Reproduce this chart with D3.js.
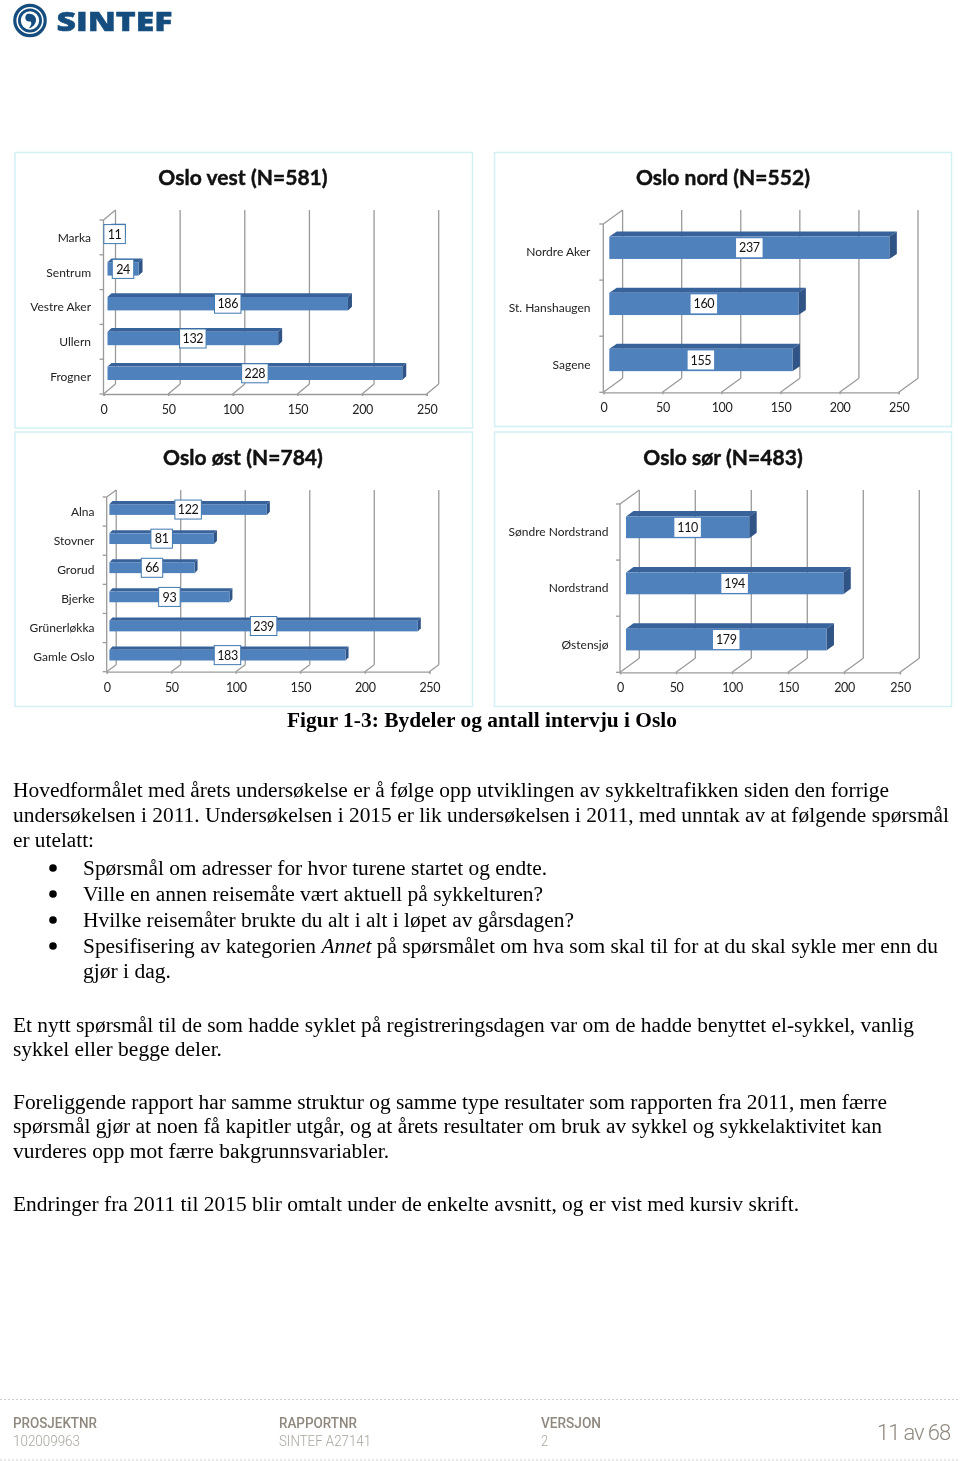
<!DOCTYPE html>
<html>
<head>
<meta charset="utf-8">
<script src="https://d3js.org/d3.v7.min.js"></script>
<style>
    html, body { margin: 0; padding: 0; background: #fff; }
    svg { display: block; }
    .soft { filter: blur(0.4px); }
</style>
</head>
<body>
<script>
const WIDTH = 960, HEIGHT = 1461;

// Values, top to bottom as in each chart
const vestCategories = ["Marka", "Sentrum", "Vestre Aker", "Ullern", "Frogner"];
const vestValues = [11, 24, 186, 132, 228];
const nordCategories = ["Nordre Aker", "St. Hanshaugen", "Sagene"];
const nordValues = [237, 160, 155];
const ostCategories = ["Alna", "Stovner", "Grorud", "Bjerke", "Grünerløkka", "Gamle Oslo"];
const ostValues = [122, 81, 66, 93, 239, 183];
const sorCategories = ["Søndre Nordstrand", "Nordstrand", "Østensjø"];
const sorValues = [110, 194, 179];
const xTicks = [0, 50, 100, 150, 200, 250];

// Placement of the four charts on the page
const panels = [
    { title: "Oslo vest (N=581)", categories: vestCategories, values: vestValues,
      box: [15, 152.5, 472.5, 428], titleX: 243, titleY: 185, x0: 103.5, x250: 426.7, floor: 394, top: 210,
      wallX: 12, wallY: 10, barX: 4, barY: -3.3, barH: 13.4, depthX: 4, depthY: 3.7, framed: true, labelX: 91 },
    { title: "Oslo nord (N=552)", categories: nordCategories, values: nordValues,
      box: [494.5, 152.5, 951.5, 426.5], titleX: 723, titleY: 185, x0: 603.3, x250: 898.7, floor: 392.3, top: 210,
      wallX: 19.3, wallY: 14, barX: 6, barY: -4.3, barH: 22.4, depthX: 7.5, depthY: 5, framed: false, labelX: 590.5 },
    { title: "Oslo øst (N=784)", categories: ostCategories, values: ostValues,
      box: [15, 432, 472.5, 706.5], titleX: 243, titleY: 465, x0: 106.7, x250: 429.3, floor: 671.7, top: 490,
      wallX: 9.5, wallY: 7, barX: 2.7, barY: -2, barH: 10.7, depthX: 3, depthY: 3.2, framed: true, labelX: 94.5 },
    { title: "Oslo sør (N=483)", categories: sorCategories, values: sorValues,
      box: [494.5, 432, 951.5, 706.5], titleX: 723, titleY: 465, x0: 620, x250: 900, floor: 672.3, top: 490,
      wallX: 19.3, wallY: 14, barX: 6, barY: -4.7, barH: 21.7, depthX: 7.5, depthY: 5.5, framed: false, labelX: 608.5 }
];

// Page text: [text, x, right edge, baseline]
const captionLine = ["Figur 1-3: Bydeler og antall intervju i Oslo", 287, 677, 727];
const bodyLines = [
    ["Hovedformålet med årets undersøkelse er å følge opp utviklingen av sykkeltrafikken siden den forrige", 13, 889, 797],
    ["undersøkelsen i 2011. Undersøkelsen i 2015 er lik undersøkelsen i 2011, med unntak av at følgende spørsmål", 13, 949, 822],
    ["er utelatt:", 13, 94, 847],
    ["Spørsmål om adresser for hvor turene startet og endte.", 83, 547, 875],
    ["Ville en annen reisemåte vært aktuell på sykkelturen?", 83, 543, 901],
    ["Hvilke reisemåter brukte du alt i alt i løpet av gårsdagen?", 83, 574, 927],
    ["gjør i dag.", 83, 171, 978],
    ["Et nytt spørsmål til de som hadde syklet på registreringsdagen var om de hadde benyttet el-sykkel, vanlig", 13, 914, 1032],
    ["sykkel eller begge deler.", 13, 222, 1056],
    ["Foreliggende rapport har samme struktur og samme type resultater som rapporten fra 2011, men færre", 13, 887, 1109],
    ["spørsmål gjør at noen få kapitler utgår, og at årets resultater om bruk av sykkel og sykkelaktivitet kan", 13, 882, 1133],
    ["vurderes opp mot færre bakgrunnsvariabler.", 13, 389, 1158],
    ["Endringer fra 2011 til 2015 blir omtalt under de enkelte avsnitt, og er vist med kursiv skrift.", 13, 799, 1211]
];
const bulletRows = [868, 894, 920, 946];

// Footer text: [label, value, x, right edge of label, right edge of value]
const footerColumns = [
    ["PROSJEKTNR", "102009963", 13, 97, 80],
    ["RAPPORTNR", "SINTEF A27141", 279, 357, 371],
    ["VERSJON", "2", 541, 601, 548]
];

const svg = d3.select("body").append("svg")
    .attr("width", WIDTH)
    .attr("height", HEIGHT);

/*
    Function that draws one text line stretched between two x positions, so the
    line ends fall where they do in the page
*/
function fittedText(parent, text, x, right, y, size, family, weight, fill) {
    return parent.append("text")
        .attr("x", x)
        .attr("y", y)
        .attr("font-family", family)
        .attr("font-size", size)
        .attr("font-weight", weight)
        .attr("fill", fill)
        .attr("textLength", right - x)
        .attr("lengthAdjust", "spacingAndGlyphs")
        .text(text);
}

/*
    Function that draws the logo: two broken rings with a swirl inside, and the
    name at the right
*/
function drawLogo() {
    const BLUE = "#154e7e";
    const g = svg.append("g").attr("class", "soft");
    g.append("circle").attr("cx", 30).attr("cy", 20.5).attr("r", 15.2)
        .attr("fill", "none").attr("stroke", BLUE).attr("stroke-width", 3.2);
    g.append("circle").attr("cx", 30).attr("cy", 20.5).attr("r", 10.6)
        .attr("fill", "none").attr("stroke", BLUE).attr("stroke-width", 2.8);
    g.append("path")
        .attr("d", "M27 14 C32 12.5 36.5 16 36 20.5 C35.5 24.5 32.5 27.5 28.5 28.5 C31.5 25.5 32 23 30.5 21.5 C27.5 22 25 20 25.3 17.5 C25.5 16 26 15 27 14 Z")
        .attr("fill", BLUE);
    fittedText(g, "SINTEF", 56.5, 172.5, 30.5, 26, "'Open Sans', sans-serif", 800, BLUE)
        .attr("stroke", BLUE).attr("stroke-width", 0.5);
}

/*
    Function that draws one chart: frame, title, walls and floor of the 3D box,
    then the bars with their value labels
*/
function drawPanel(p) {
    const g = svg.append("g").attr("class", "soft");
    const GRID = "#9a9a9a";

    g.append("rect")
        .attr("x", p.box[0]).attr("y", p.box[1])
        .attr("width", p.box[2] - p.box[0]).attr("height", p.box[3] - p.box[1])
        .attr("fill", "#fff").attr("stroke", "#d3f0f5").attr("stroke-width", 1.5);

    g.append("text")
        .attr("x", p.titleX).attr("y", p.titleY)
        .attr("text-anchor", "middle")
        .attr("font-family", "Lato, sans-serif")
        .attr("font-weight", 700)
        .attr("font-size", 21)
        .attr("letter-spacing", 0.05)
        .attr("fill", "#111")
        .attr("stroke", "#111")
        .attr("stroke-width", 0.45)
        .text(p.title);

    const x = d3.scaleLinear().domain([0, 250]).range([p.x0, p.x250]);
    const y = d3.scaleBand().domain(p.categories).range([p.top + p.wallY, p.floor]);
    const lineStyle = sel => sel.attr("stroke", GRID).attr("stroke-width", 1.3);

    // Back wall lines and floor diagonals
    g.selectAll(".back").data(xTicks).enter().append("line")
        .attr("x1", d => x(d) + p.wallX).attr("x2", d => x(d) + p.wallX)
        .attr("y1", p.top).attr("y2", p.floor - p.wallY)
        .call(lineStyle);
    g.selectAll(".diag").data(xTicks).enter().append("line")
        .attr("x1", d => x(d)).attr("x2", d => x(d) + p.wallX)
        .attr("y1", p.floor).attr("y2", p.floor - p.wallY)
        .call(lineStyle);

    // Left wall
    g.append("line")
        .attr("x1", p.x0).attr("x2", p.x0 + p.wallX)
        .attr("y1", p.top + p.wallY).attr("y2", p.top)
        .call(lineStyle);
    const edges = p.categories.map(d => y(d)).concat([p.floor]);
    g.selectAll(".edge").data(edges).enter().append("line")
        .attr("x1", p.x0 - 4).attr("x2", p.x0)
        .attr("y1", d => d).attr("y2", d => d)
        .call(lineStyle);
    g.append("line")
        .attr("x1", p.x0).attr("x2", p.x0)
        .attr("y1", p.top + p.wallY).attr("y2", p.floor)
        .call(lineStyle);

    // Bottom axis: the tick labels come from d3, the front line stays grey
    const axis = g.append("g")
        .attr("transform", `translate(0,${p.floor})`)
        .call(d3.axisBottom(x).tickValues(xTicks).tickSize(2).tickPadding(9));
    axis.selectAll("path, line").attr("stroke", GRID).attr("stroke-width", 1.3);
    axis.selectAll("text")
        .attr("font-family", "Lato, sans-serif")
        .attr("font-size", 12.5)
        .attr("letter-spacing", -0.4)
        .attr("fill", "#222");

    // Category labels
    g.selectAll(".cat").data(p.categories).enter().append("text")
        .attr("x", p.labelX)
        .attr("y", d => y(d) + y.bandwidth() / 2 + 4.3)
        .attr("text-anchor", "end")
        .attr("font-family", "Lato, sans-serif")
        .attr("font-size", 12)
        .attr("fill", "#222")
        .text(d => d);

    // Bars
    const rows = p.categories.map((c, i) => {
        const top = y(c) + y.bandwidth() / 2 + p.barY - p.barH / 2;
        return { value: p.values[i], left: p.x0 + p.barX, right: x(p.values[i]) + p.barX, top: top, bottom: top + p.barH };
    });
    const bars = g.selectAll(".bar").data(rows).enter().append("g");
    bars.append("polygon")
        .attr("fill", "#38629a")
        .attr("points", d => [[d.left, d.top], [d.right, d.top], [d.right + p.depthX, d.top - p.depthY], [d.left + p.depthX, d.top - p.depthY]].join(" "));
    bars.append("polygon")
        .attr("fill", "#2f5485")
        .attr("points", d => [[d.right, d.top], [d.right + p.depthX, d.top - p.depthY], [d.right + p.depthX, d.bottom - p.depthY], [d.right, d.bottom]].join(" "));
    bars.append("rect")
        .attr("x", d => d.left).attr("y", d => d.top)
        .attr("width", d => d.right - d.left).attr("height", p.barH)
        .attr("fill", "#4f81bd");

    // Value labels in white boxes, centred on the bar face
    const boxW = d => d.value < 100 ? 21.5 : 26.5;
    const boxY = d => (d.top + d.bottom) / 2;
    bars.append("rect")
        .attr("x", d => (d.left + d.right) / 2 - boxW(d) / 2)
        .attr("y", d => boxY(d) - 9.5)
        .attr("width", boxW).attr("height", 19)
        .attr("fill", "#fff")
        .attr("stroke", p.framed ? "#3f78ae" : "none")
        .attr("stroke-width", 1);
    bars.append("text")
        .attr("x", d => (d.left + d.right) / 2)
        .attr("y", d => boxY(d) + 4.6)
        .attr("text-anchor", "middle")
        .attr("font-family", "Lato, sans-serif")
        .attr("font-size", 12.5)
        .attr("letter-spacing", -0.4)
        .attr("fill", "#111")
        .text(d => d.value);
}

/*
    Function that draws the caption and the running text below the charts
*/
function drawText() {
    const SERIF = "'Liberation Serif', serif";
    const g = svg.append("g").attr("class", "soft");
    fittedText(g, captionLine[0], captionLine[1], captionLine[2], captionLine[3], 20.5, SERIF, 700, "#000");
    bodyLines.forEach(l => fittedText(g, l[0], l[1], l[2], l[3], 20.5, SERIF, 400, "#000"));

    // The line with the italic word
    const mixed = fittedText(g, "", 83, 938, 953, 20.5, SERIF, 400, "#000");
    mixed.append("tspan").text("Spesifisering av kategorien ");
    mixed.append("tspan").attr("font-style", "italic").text("Annet");
    mixed.append("tspan").text(" på spørsmålet om hva som skal til for at du skal sykle mer enn du");

    g.selectAll(".bullet").data(bulletRows).enter().append("circle")
        .attr("cx", 53).attr("cy", d => d).attr("r", 3.8).attr("fill", "#000");
}

/*
    Function that draws the footer with its two dotted lines
*/
function drawFooter() {
    const FONT = "Roboto, sans-serif";
    const g = svg.append("g").attr("class", "soft");
    g.selectAll(".rule").data([1399.5, 1460]).enter().append("line")
        .attr("x1", 0).attr("x2", WIDTH)
        .attr("y1", d => d).attr("y2", d => d)
        .attr("stroke", "#cfcfcf").attr("stroke-dasharray", "2 2");
    footerColumns.forEach(c => {
        fittedText(g, c[0], c[2], c[3], 1428, 14, FONT, 500, "#8f887e");
        fittedText(g, c[1], c[2], c[4], 1445.5, 14, FONT, 300, "#aaa59d");
    });
    g.append("text")
        .attr("x", 950).attr("y", 1439.5)
        .attr("text-anchor", "end")
        .attr("font-family", FONT)
        .attr("font-size", 22)
        .attr("font-weight", 300)
        .attr("letter-spacing", -1.1)
        .attr("fill", "#8f887e")
        .text("11 av 68");
}

drawLogo();
panels.forEach(drawPanel);
drawText();
drawFooter();
</script>
</body>
</html>
